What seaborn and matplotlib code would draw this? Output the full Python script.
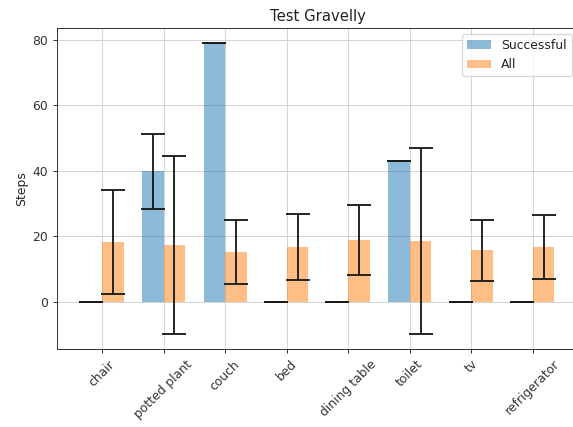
import matplotlib
matplotlib.use("Agg")
import matplotlib.pyplot as plt
import seaborn as sns
import pandas as pd

categories = ["chair", "potted plant", "couch", "bed", "dining table",
              "toilet", "tv", "refrigerator"]
successful_mean = [0.0, 39.8, 79.1, 0.0, 0.0, 43.0, 0.0, 0.0]
successful_err = [0.0, 11.3, 0.0, 0.0, 0.0, 0.0, 0.0, 0.0]
all_mean = [18.2, 17.4, 15.2, 16.7, 18.9, 18.5, 15.7, 16.7]
all_err = [15.9, 27.1, 9.8, 10.0, 10.6, 28.4, 9.2, 9.7]
series = ["Successful", "All"]

sns.set_style("ticks", {
    "axes.grid": True,
    "grid.color": "#d4d4d4",
    "axes.edgecolor": "#333333",
    "xtick.color": "#333333",
    "ytick.color": "#333333",
    "axes.labelcolor": "#222222",
    "text.color": "#222222",
})
plt.rcParams["font.family"] = ["DejaVu Sans"]

df = pd.DataFrame({
    "object": categories * 2,
    "steps": successful_mean + all_mean,
    "series": [series[0]] * len(categories) + [series[1]] * len(categories),
})

fig = plt.figure(figsize=(573 / 89, 427 / 89), dpi=89)
# the plot area runs off the right edge of the canvas; only 516 of its
# 521 px are visible
full_w, shown_w = 521, 516
ax = fig.add_axes([57 / 573, 78 / 427, shown_w / 573, 321 / 427])

bar_width = 0.35
sns.barplot(data=df, x="object", y="steps", hue="series", order=categories,
            hue_order=series, palette=["#1f77b4", "#ff7f0e"], saturation=1,
            width=2 * bar_width, alpha=0.5, linewidth=0, errorbar=None, ax=ax)

# error bars centred on each bar
for container, errs in zip(ax.containers, [successful_err, all_err]):
    xs = [p.get_x() + p.get_width() / 2 for p in container]
    ys = [p.get_height() for p in container]
    ax.errorbar(xs, ys, yerr=errs, fmt="none", ecolor="#1a1a1a",
                elinewidth=1.5, capsize=10, capthick=1.5, zorder=3)

ax.xaxis.grid(True)
ax.set_axisbelow(True)
# same 5% padding matplotlib gives grouped bars, cut at the canvas edge
lo, hi = -bar_width, len(categories) - 1 + bar_width
pad = 0.05 * (hi - lo)
x0, x1 = lo - pad, hi + pad
ax.set_xlim(x0, x0 + (x1 - x0) * shown_w / full_w)
ax.spines["right"].set_visible(False)

ax.set_title("Test Gravelly", fontsize=12, x=full_w / shown_w / 2)
ax.set_xlabel("")
ax.set_ylabel("Steps", fontsize=10)
ax.tick_params(axis="x", labelrotation=45, labelsize=10)
ax.tick_params(axis="y", labelsize=10)
ax.legend(loc="upper right", fontsize=10, frameon=True,
          bbox_to_anchor=(full_w / shown_w, 1.0))

fig.savefig("out.png", dpi=89)
